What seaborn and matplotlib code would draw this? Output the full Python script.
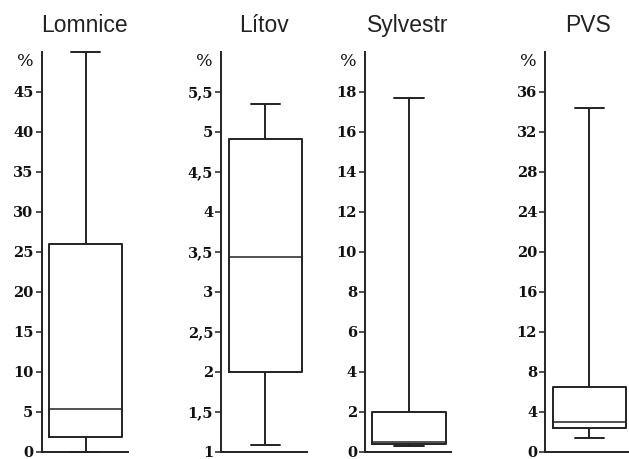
import matplotlib
matplotlib.use("Agg")
import numpy as np
import pandas as pd
import seaborn as sns
import matplotlib.pyplot as plt
from matplotlib.ticker import FixedLocator, FixedFormatter

# ---- data (five-number summaries, in %) ----
sites = ["Lomnice", "Lítov", "Sylvestr", "PVS"]
lomnice = [0.0, 1.8, 5.3, 26.0, 50.0]      # min, Q1, median, Q3, max
litov = [1.08, 2.0, 3.43, 4.91, 5.35]
sylvestr = [0.27, 0.37, 0.48, 2.0, 17.7]
pvs = [1.4, 2.4, 3.0, 6.5, 34.4]
site_values = [lomnice, litov, sylvestr, pvs]

y_limits = [(0, 50), (1, 6), (0, 20), (0, 40)]
tick_values = [
    [0, 5, 10, 15, 20, 25, 30, 35, 40, 45],
    [1, 1.5, 2, 2.5, 3, 3.5, 4, 4.5, 5, 5.5],
    [0, 2, 4, 6, 8, 10, 12, 14, 16, 18],
    [0, 4, 8, 12, 16, 20, 24, 28, 32, 36],
]
tick_labels = [
    ["0", "5", "10", "15", "20", "25", "30", "35", "40", "45"],
    ["1", "1,5", "2", "2,5", "3", "3,5", "4", "4,5", "5", "5,5"],
    ["0", "2", "4", "6", "8", "10", "12", "14", "16", "18"],
    ["0", "4", "8", "12", "16", "20", "24", "28", "32", "36"],
]

rows = []
for s, vals in zip(sites, site_values):
    for v in vals:
        rows.append({"site": s, "value": v})
df = pd.DataFrame(rows)

sns.set_style("white")
W, H = 629, 459
fig = plt.figure(figsize=(W / 100, H / 100), dpi=100)
fig.patch.set_facecolor("white")

line_col = "#222222"
x0s = [41.5, 221.3, 365.0, 545.3]
ax_w = 86.0
bottom_px = 451.5
top_px = 52.0

for i, s in enumerate(sites):
    ax = fig.add_axes([x0s[i] / W, (H - bottom_px) / H, ax_w / W, (bottom_px - top_px) / H])
    sub = df[df["site"] == s]
    sns.boxplot(data=sub, y="value", ax=ax, whis=(0, 100), width=0.8,
                fill=False, color=line_col, linewidth=1.4, showfliers=False,
                capwidths=0.32,
                medianprops={"linewidth": 1.1, "color": line_col})
    ax.set_xlim(-0.482, 0.46)
    ax.set_ylim(*y_limits[i])
    ax.set_xticks([])
    ax.set_xlabel("")
    ax.set_ylabel("")
    ax.yaxis.set_major_locator(FixedLocator(tick_values[i]))
    ax.yaxis.set_major_formatter(FixedFormatter(tick_labels[i]))
    ax.tick_params(axis="y", left=True, length=4.3, width=1.1, pad=1.5,
                   color=line_col, labelcolor="#111111")
    for lab in ax.get_yticklabels():
        lab.set_fontfamily("DejaVu Serif")
        lab.set_fontweight("bold")
        lab.set_fontsize(10.5)
    for side in ["top", "right"]:
        ax.spines[side].set_visible(False)
    for side in ["left", "bottom"]:
        ax.spines[side].set_color(line_col)
        ax.spines[side].set_linewidth(1.4)
    ax.set_facecolor("none")
    for ln in ax.lines:
        ln.set_clip_on(False)
    for p in ax.patches:
        p.set_clip_on(False)
    ax.set_title(s, family="Liberation Sans", fontsize=16.5, color="#222222", pad=14.5)
    ax.annotate("%", xy=(0, 1), xycoords="axes fraction", xytext=(-6.0, -1.0),
                textcoords="offset points", ha="right", va="top",
                family="DejaVu Serif", fontsize=12.5, color="#111111")

fig.savefig("out.png", dpi=100, facecolor="white")
